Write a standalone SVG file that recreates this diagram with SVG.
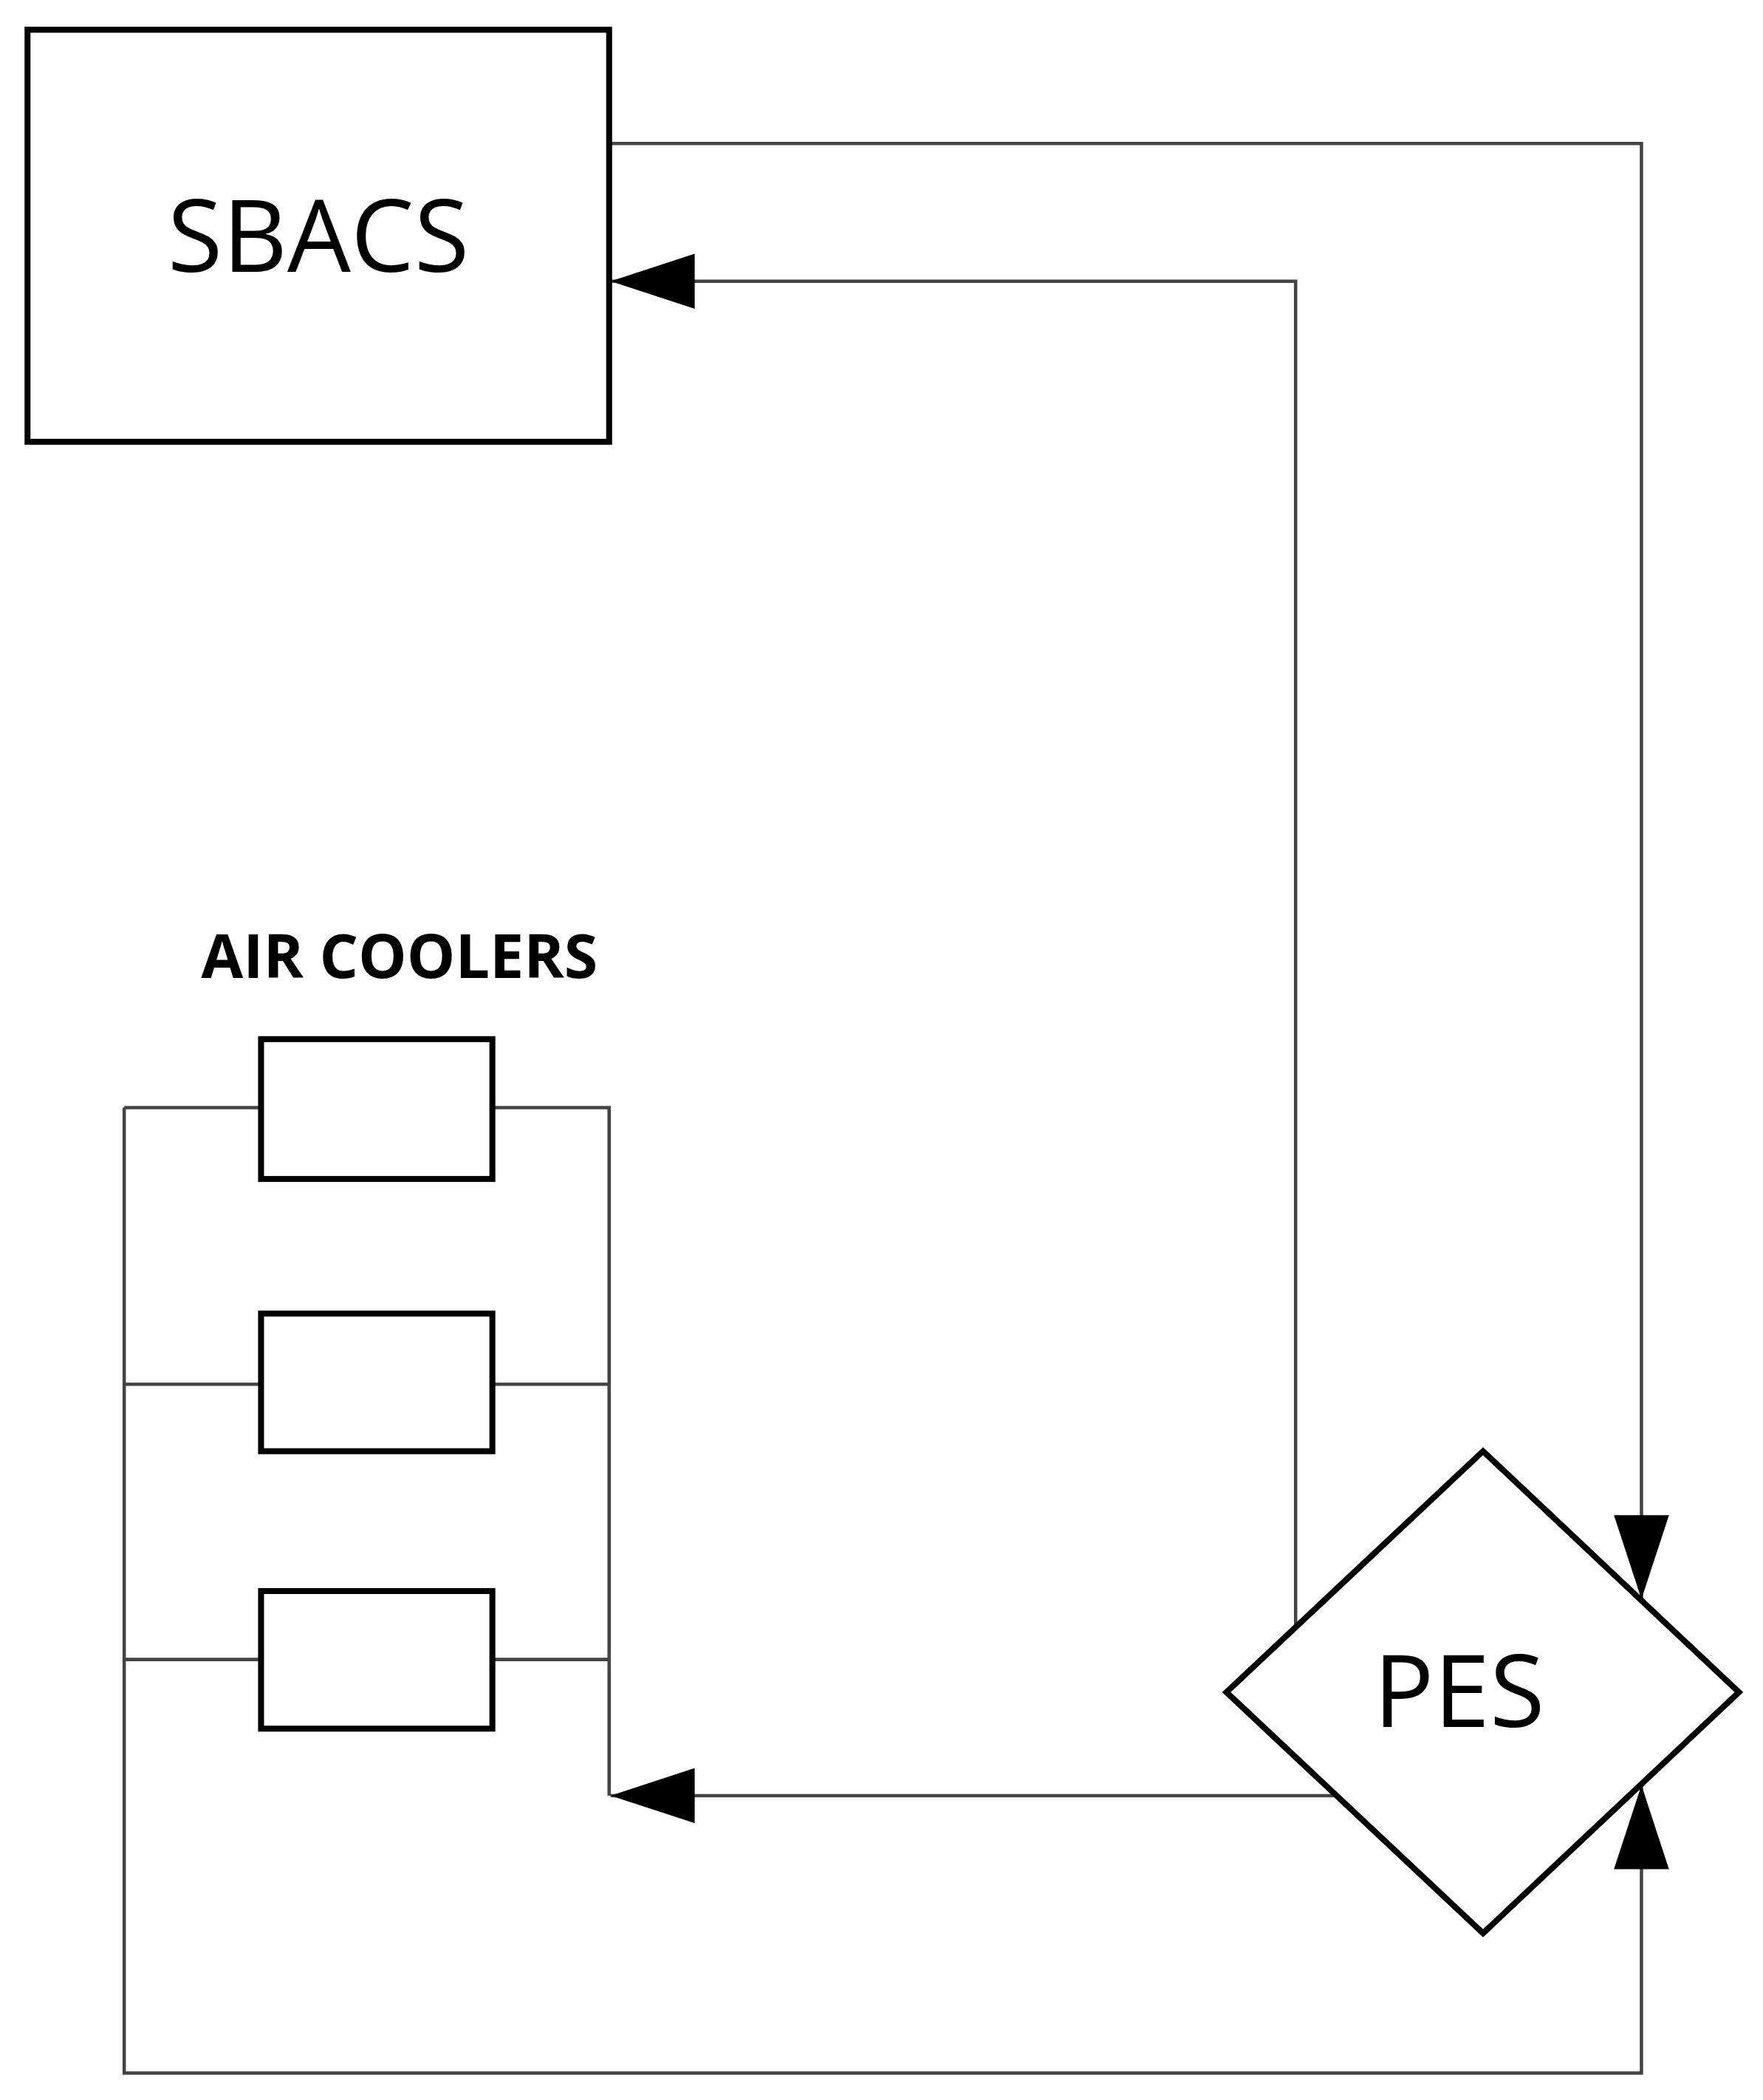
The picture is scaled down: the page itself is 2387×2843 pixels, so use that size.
<svg xmlns="http://www.w3.org/2000/svg" width="2387" height="2843" viewBox="0 0 2387 2843">
<style>
.box{fill:#fff;stroke:#000;stroke-width:8}
.ln{fill:none;stroke:#444;stroke-width:4.5}
.t{font-family:"Open Sans","Liberation Sans",sans-serif;fill:#000}
</style>
<defs>
<marker id="ah" markerUnits="userSpaceOnUse" markerWidth="115" markerHeight="74" refX="113" refY="37" orient="auto">
<path d="M0,0 L113,37 L0,74 Z" fill="#000"/>
</marker>
</defs>
<rect width="2387" height="2843" fill="#fff"/>
<g transform="scale(1.007)">
<g id="connectors">
<path class="ln" d="M819,193 H2207 V2150" marker-end="url(#ah)"/>
<path class="ln" d="M1742,2187 V378 H821" marker-end="url(#ah)"/>
<path class="ln" d="M1796,2414 H821" marker-end="url(#ah)"/>
<path class="ln" d="M167,1489 V2787 H2207 V2400" marker-end="url(#ah)"/>
<path class="ln" d="M167,1489 H351 M662,1489 H819 V2414"/>
<path class="ln" d="M167,1861 H351 M662,1861 H819"/>
<path class="ln" d="M167,2231 H351 M662,2231 H819"/>
</g>
<g id="sbacs">
<rect class="box" x="37" y="40" width="782" height="554"/>
<text class="t" x="428" y="365" font-size="135" text-anchor="middle">SBACS</text>
</g>
<g id="pes">
<polygon class="box" points="1994,1951 2338,2275 1994,2599 1649,2275"/>
<text class="t" x="1962" y="2322" font-size="135" text-anchor="middle">PES</text>
</g>
<g id="air-coolers">
<text class="t" x="537" y="1315" font-size="82" font-weight="bold" text-anchor="middle">AIR COOLERS</text>
<rect class="box" x="351" y="1397" width="311" height="188"/>
<rect class="box" x="351" y="1766" width="311" height="185"/>
<rect class="box" x="351" y="2139" width="311" height="185"/>
</g>
</g>
</svg>
